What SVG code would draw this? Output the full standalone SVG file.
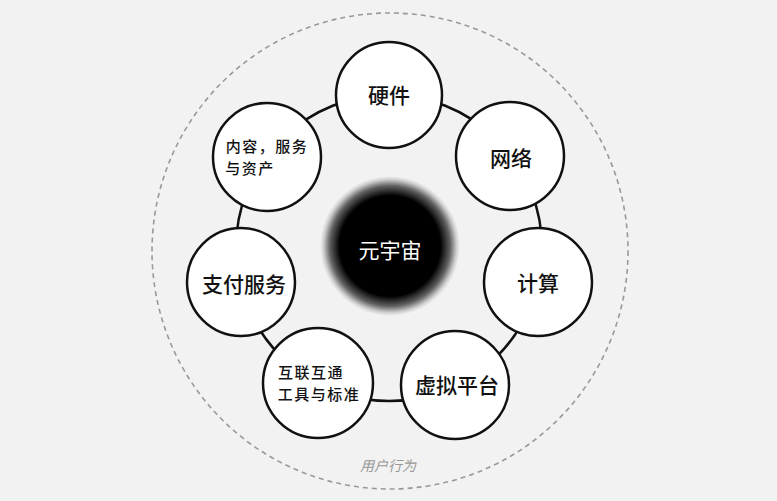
<svg xmlns="http://www.w3.org/2000/svg" width="777" height="501" viewBox="0 0 777 501">
<defs>
<radialGradient id="blob" cx="0.5" cy="0.5" r="0.5">
<stop offset="0" stop-color="#000"/>
<stop offset="0.72" stop-color="#000"/>
<stop offset="0.86" stop-color="#000" stop-opacity="0.6"/>
<stop offset="0.95" stop-color="#000" stop-opacity="0.15"/>
<stop offset="1" stop-color="#000" stop-opacity="0"/>
</radialGradient>
<style>
.node{fill:#fff;stroke:#111;stroke-width:2.5}
.lbl{font-family:"Noto Sans CJK SC","Noto Sans",sans-serif;fill:#111;text-anchor:middle;dominant-baseline:central;font-weight:500}
.big{font-size:21px}
.small{font-size:15px;letter-spacing:1.5px}
</style>
</defs>
<rect width="777" height="501" fill="#f2f2f2"/>
<circle cx="390" cy="251" r="238" fill="none" stroke="#999" stroke-width="1.6" stroke-dasharray="5 4"/>
<text x="388" y="465" style="font-family:'Noto Sans CJK SC',sans-serif;font-size:14px;fill:#999;font-style:italic;text-anchor:middle;dominant-baseline:central">用户行为</text>
<g id="connectors">
<circle cx="389" cy="248" r="153" fill="none" stroke="#111" stroke-width="2.5"/>
</g>
<g id="center">
<circle cx="390" cy="246" r="70" fill="url(#blob)"/>
<text x="390" y="249" class="lbl" style="font-size:21px;fill:#fff;font-weight:400">元宇宙</text>
</g>
<g id="n-hardware">
<circle class="node" cx="389" cy="95" r="53"/>
<text class="lbl big" x="389" y="94">硬件</text>
</g>
<g id="n-network">
<circle class="node" cx="510" cy="156" r="54"/>
<text class="lbl big" x="511" y="157">网络</text>
</g>
<g id="n-compute">
<circle class="node" cx="538" cy="282" r="54"/>
<text class="lbl big" x="538" y="282">计算</text>
</g>
<g id="n-virtual">
<circle class="node" cx="455" cy="385" r="54"/>
<text class="lbl big" x="457" y="384">虚拟平台</text>
</g>
<g id="n-interop">
<circle class="node" cx="318" cy="383" r="55"/>
<text class="lbl small" x="311" y="371.5">互联互通</text>
<text class="lbl small" x="319" y="393.5">工具与标准</text>
</g>
<g id="n-payment">
<circle class="node" cx="241" cy="282" r="54"/>
<text class="lbl big" x="244" y="283">支付服务</text>
</g>
<g id="n-content">
<circle class="node" cx="267" cy="157" r="54"/>
<text class="lbl small" x="267" y="145.5">内容，服务</text>
<text class="lbl small" x="250" y="167.5">与资产</text>
</g>
</svg>
